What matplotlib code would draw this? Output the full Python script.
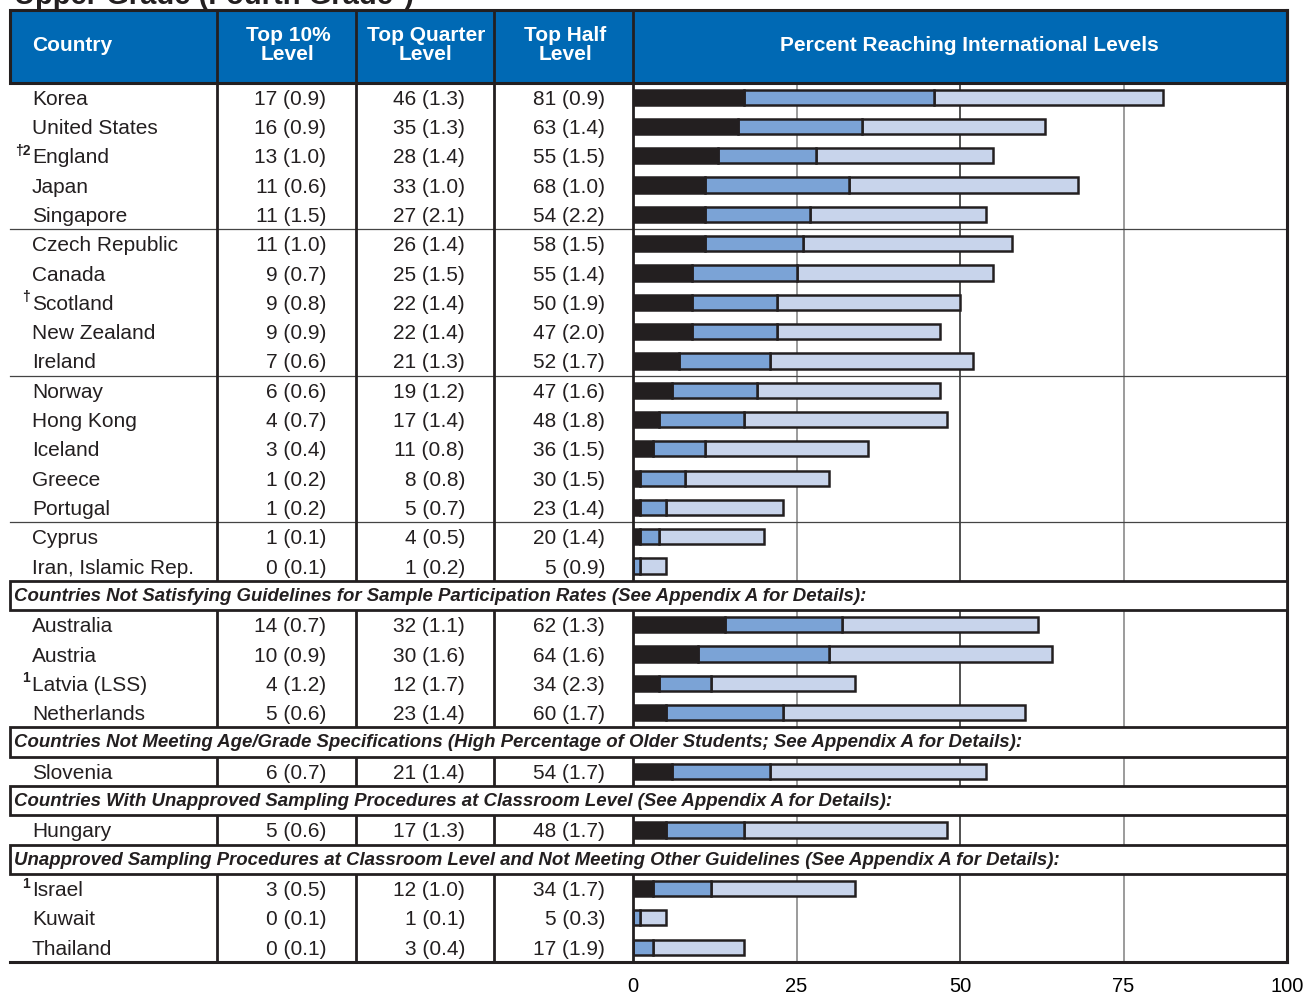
import numpy as np
import matplotlib
matplotlib.use('Agg')
import matplotlib.pyplot as plt
from matplotlib.patches import Rectangle

plt.rcParams['font.family'] = ['Liberation Sans', 'DejaVu Sans']

# ---- data ----
countries = ['Korea', 'United States', 'England', 'Japan', 'Singapore',
             'Czech Republic', 'Canada', 'Scotland', 'New Zealand', 'Ireland',
             'Norway', 'Hong Kong', 'Iceland', 'Greece', 'Portugal',
             'Cyprus', 'Iran, Islamic Rep.',
             'Australia', 'Austria', 'Latvia (LSS)', 'Netherlands',
             'Slovenia', 'Hungary', 'Israel', 'Kuwait', 'Thailand']
marks = ['', '', '\u20202', '', '', '', '', '\u2020', '', '',
         '', '', '', '', '', '', '',
         '', '', '1', '', '', '', '1', '', '']
top10 = [17, 16, 13, 11, 11, 11, 9, 9, 9, 7, 6, 4, 3, 1, 1, 1, 0,
         14, 10, 4, 5, 6, 5, 3, 0, 0]
top10_se = [0.9, 0.9, 1.0, 0.6, 1.5, 1.0, 0.7, 0.8, 0.9, 0.6, 0.6, 0.7, 0.4, 0.2, 0.2, 0.1, 0.1,
            0.7, 0.9, 1.2, 0.6, 0.7, 0.6, 0.5, 0.1, 0.1]
topq = [46, 35, 28, 33, 27, 26, 25, 22, 22, 21, 19, 17, 11, 8, 5, 4, 1,
        32, 30, 12, 23, 21, 17, 12, 1, 3]
topq_se = [1.3, 1.3, 1.4, 1.0, 2.1, 1.4, 1.5, 1.4, 1.4, 1.3, 1.2, 1.4, 0.8, 0.8, 0.7, 0.5, 0.2,
           1.1, 1.6, 1.7, 1.4, 1.4, 1.3, 1.0, 0.1, 0.4]
toph = [81, 63, 55, 68, 54, 58, 55, 50, 47, 52, 47, 48, 36, 30, 23, 20, 5,
        62, 64, 34, 60, 54, 48, 34, 5, 17]
toph_se = [0.9, 1.4, 1.5, 1.0, 2.2, 1.5, 1.4, 1.9, 2.0, 1.7, 1.6, 1.8, 1.5, 1.5, 1.4, 1.4, 0.9,
           1.3, 1.6, 2.3, 1.7, 1.7, 1.7, 1.7, 0.3, 1.9]

bands = {17: 'Countries Not Satisfying Guidelines for Sample Participation Rates (See Appendix A for Details):',
         21: 'Countries Not Meeting Age/Grade Specifications (High Percentage of Older Students; See Appendix A for Details):',
         22: 'Countries With Unapproved Sampling Procedures at Classroom Level (See Appendix A for Details):',
         23: 'Unapproved Sampling Procedures at Classroom Level and Not Meeting Other Guidelines (See Appendix A for Details):'}
group_breaks = [5, 10, 15]  # thin rule before these rows
xticks = [0, 25, 50, 75, 100]

# ---- layout (pixels) ----
W, H = 1309, 996
X0, X1 = 10, 1287
col_x = [217, 356, 494, 633]
HEAD_T, HEAD_B = 10, 82.5
SLOT = 29.31
BLACK = '#231f20'
BLUE_HEAD = '#0069b4'
MID = '#7ba3d6'
LIGHT = '#c8d4eb'

# build slot list
slots = []
for i in range(len(countries)):
    if i in bands:
        slots.append(('band', bands[i]))
    slots.append(('row', i))
nslot = len(slots)
BODY_B = HEAD_B + nslot * SLOT

fig = plt.figure(figsize=(W / 100, H / 100), dpi=100)

# bar axes
axb = fig.add_axes([col_x[3] / W, 1 - BODY_B / H, (X1 - col_x[3]) / W, (BODY_B - HEAD_B) / H])
axb.set_xlim(0, 100)
axb.set_ylim(nslot, 0)
for s in axb.spines.values():
    s.set_visible(False)
axb.set_yticks([])
axb.set_xticks(xticks)
axb.set_xticklabels([str(t) for t in xticks], fontsize=14.5)
axb.tick_params(axis='x', length=0, pad=11)
axb.patch.set_visible(False)
for t in [25, 75]:
    axb.axvline(t, color='#8a8a8a', lw=1.2, zorder=0)
axb.axvline(50, color='#333333', lw=1.2, zorder=0)

row_y = {}
for k, (kind, v) in enumerate(slots):
    if kind == 'row':
        row_y[v] = k + 0.5
ys = np.array([row_y[i] for i in range(len(countries))])
t10 = np.array(top10)
tq = np.array(topq)
th = np.array(toph)
bh = 0.52
axb.barh(ys, th - tq, left=tq, height=bh, color=LIGHT, edgecolor=BLACK, lw=1.8, zorder=2)
axb.barh(ys, tq - t10, left=t10, height=bh, color=MID, edgecolor=BLACK, lw=1.8, zorder=3)
axb.barh(ys, t10, left=0, height=bh, color=BLACK, edgecolor=BLACK, lw=1.8, zorder=4)

# table axes (pixel coordinates) on top
ax = fig.add_axes([0, 0, 1, 1])
ax.set_xlim(0, W)
ax.set_ylim(H, 0)
ax.axis('off')
ax.set_zorder(3)
ax.patch.set_visible(False)

# clipped title
ax.text(14, 4, 'Upper Grade (Fourth Grade*)', fontsize=21, fontweight='bold',
        va='baseline', ha='left', color=BLACK)

# header
ax.add_patch(Rectangle((X0, HEAD_T), X1 - X0, HEAD_B - HEAD_T, facecolor=BLUE_HEAD,
                       edgecolor=BLACK, lw=2.2, zorder=2))
hy = (HEAD_T + HEAD_B) / 2
hkw = dict(color='white', fontweight='bold', fontsize=15, va='center', zorder=4)
ax.text(32, hy - 1, 'Country', ha='left', **hkw)
ax.text(288, hy - 1, 'Top 10%\nLevel', ha='center', linespacing=1.0, **hkw)
ax.text(426, hy - 1, 'Top Quarter\nLevel', ha='center', linespacing=1.0, **hkw)
ax.text(565, hy - 1, 'Top Half\nLevel', ha='center', linespacing=1.0, **hkw)
ax.text(969, hy - 1, 'Percent Reaching International Levels', ha='center', **hkw)

# column dividers and borders
for cx in col_x:
    ax.plot([cx, cx], [HEAD_T, BODY_B], color=BLACK, lw=2, zorder=3)
ax.plot([X1, X1], [HEAD_T, BODY_B], color=BLACK, lw=2.2, zorder=3)
ax.plot([X0, X1], [BODY_B, BODY_B], color=BLACK, lw=2.2, zorder=3)

# rows, bands, rules
for k, (kind, v) in enumerate(slots):
    top = HEAD_B + k * SLOT
    cy = top + SLOT / 2
    if kind == 'band':
        ax.add_patch(Rectangle((X0, top), X1 - X0, SLOT, facecolor='white',
                               edgecolor=BLACK, lw=2, zorder=5))
        ax.text(14, cy + 1, v, fontsize=13.4, fontweight='bold', style='italic',
                ha='left', va='center', color=BLACK, zorder=6)
        continue
    i = v
    if i in group_breaks:
        ax.plot([X0, X1], [top, top], color='#444444', lw=0.9, zorder=1)
    ax.text(32, cy + 2, countries[i], fontsize=15, ha='left', va='center', color=BLACK)
    if marks[i]:
        ax.text(30, cy - 5, marks[i], fontsize=10, fontweight='bold', ha='right',
                va='center', color=BLACK)
    ax.text(326, cy + 2, '%d (%.1f)' % (top10[i], top10_se[i]), fontsize=15,
            ha='right', va='center', color=BLACK)
    ax.text(465, cy + 2, '%d (%.1f)' % (topq[i], topq_se[i]), fontsize=15,
            ha='right', va='center', color=BLACK)
    ax.text(605, cy + 2, '%d (%.1f)' % (toph[i], toph_se[i]), fontsize=15,
            ha='right', va='center', color=BLACK)

fig.savefig('out.png', dpi=100, facecolor='white')
